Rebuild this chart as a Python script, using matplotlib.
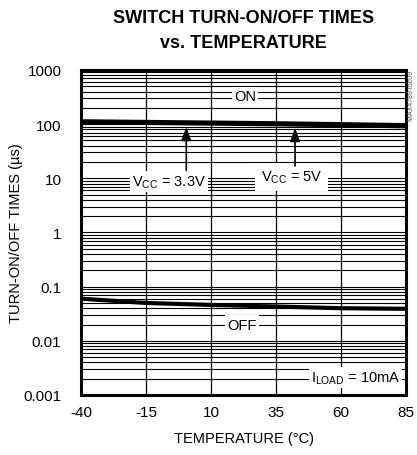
import numpy as np
import matplotlib.pyplot as plt
from matplotlib import font_manager

# data
temp = [-40, -15, 10, 35, 60, 85]
t_on_33 = [113, 110, 107, 104, 100, 96]
t_on_5 = [107, 104, 101, 98, 94, 90]
t_off = [0.060, 0.050, 0.046, 0.043, 0.040, 0.039]
yticks = [0.001, 0.01, 0.1, 1, 10, 100, 1000]
ytick_labels = ["0.001", "0.01", "0.1", "1", "10", "100", "1000"]

names = {f.name for f in font_manager.fontManager.ttflist}
narrow = "Liberation Sans Narrow" if "Liberation Sans Narrow" in names else "Liberation Sans"
plt.rcParams['font.family'] = [narrow, 'DejaVu Sans']
plt.rcParams['mathtext.fontset'] = 'custom'
plt.rcParams['mathtext.rm'] = narrow
plt.rcParams['axes.unicode_minus'] = False

fig = plt.figure(figsize=(4.17, 4.56), dpi=100)
ax = fig.add_axes([0.194, 0.1316, 0.78, 0.7127])

ax.set_yscale('log')
ax.set_xlim(-40, 85)
ax.set_ylim(0.001, 1000)

# grid
for d in range(-3, 3):
    for m in range(1, 10):
        ax.axhline(m * 10.0**d, color='black', lw=0.8, zorder=1)
for x in temp[1:-1]:
    ax.axvline(x, color='black', lw=0.9, zorder=1)

ax.plot(temp, t_on_33, color='black', lw=3, zorder=3)
ax.plot(temp, t_on_5, color='black', lw=2.5, zorder=3)
ax.plot(temp, t_off, color='black', lw=3, zorder=3)

box = dict(facecolor='white', edgecolor='none', pad=1.5)
fs = 10.5
ax.text(23, 330, "ON", ha='center', va='center', fontsize=fs, bbox=box, zorder=4)
ax.text(22, 0.02, "OFF", ha='center', va='center', fontsize=fs, bbox=box, zorder=4)
ax.text(-6, 8.6, r"V$_{\mathrm{CC}}$ = 3.3V", ha='center', va='center', fontsize=fs, bbox=box, zorder=4)
ax.text(41, 10.6, r"V$_{\mathrm{CC}}$ = 5V", ha='center', va='center', fontsize=fs,
        bbox=dict(facecolor='white', edgecolor='none', pad=4), zorder=4)
ax.text(65.5, 0.0021, r"I$_{\mathrm{LOAD}}$ = 10mA", ha='center', va='center', fontsize=fs, bbox=box, zorder=4)

arrow = dict(arrowstyle='-|>,head_width=0.3,head_length=0.8', color='black', lw=1.2)
ax.annotate("", xy=(0.5, 100), xytext=(0.5, 12.5), arrowprops=arrow, zorder=5)
ax.annotate("", xy=(42.3, 96), xytext=(42.3, 15), arrowprops=arrow, zorder=5)

ax.set_yticks(yticks)
ax.set_yticklabels(ytick_labels)
ax.set_yticks([], minor=True)
ax.set_xticks(temp)
ax.tick_params(axis='both', length=0, labelsize=11)
ax.tick_params(axis='y', pad=14)
ax.tick_params(axis='x', pad=7)

for s in ax.spines.values():
    s.set_linewidth(2.2)

ax.set_xlabel("TEMPERATURE (°C)", fontsize=10.5, labelpad=9)
ax.set_ylabel("TURN-ON/OFF TIMES (µs)", fontsize=10.5)
ax.yaxis.set_label_coords(-0.178, 0.5)

fig.text(0.584, 0.978, "SWITCH TURN-ON/OFF TIMES\nvs. TEMPERATURE", ha='center', va='top',
         fontsize=13, fontweight='bold', linespacing=1.6)
fig.text(0.988, 0.845, "MAX4789 toc09", rotation=90, ha='center', va='top', fontsize=5, color='#555555')

fig.savefig("out.png", dpi=100)
